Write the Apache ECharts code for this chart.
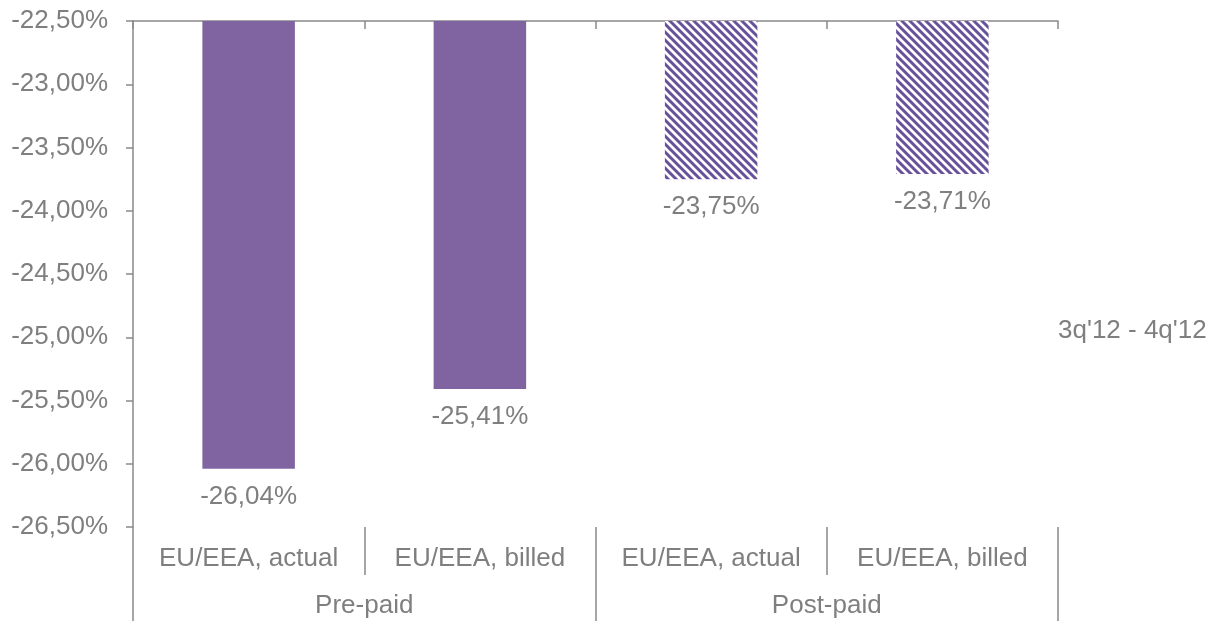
<!DOCTYPE html>
<html>
<head>
<meta charset="utf-8">
<script src="https://cdn.jsdelivr.net/npm/echarts@6/dist/echarts.min.js"></script>
<style>
    html, body { margin: 0; padding: 0; background: #fff; }
    #main { width: 1212px; height: 621px; }
</style>
</head>
<body>
<div id="main"></div>
<script>
// categories and values
var categories = ['EU/EEA, actual', 'EU/EEA, billed', 'EU/EEA, actual', 'EU/EEA, billed'];
var groups = ['Pre-paid', 'Post-paid'];
var values = [-26.04, -25.41, -23.75, -23.71];
var hatched = [false, false, true, true];
var seriesName = "3q'12 - 4q'12";

var gray = '#898989';
var textColor = '#7f7f7f';
var font = "'Liberation Sans', Arial, sans-serif";

// hatch pattern for the post-paid bars
function makeHatch() {
    var n = 8;
    var c = document.createElement('canvas');
    c.width = n;
    c.height = n;
    var ctx = c.getContext('2d');
    for (var y = 0; y < n; y++) {
        for (var x = 0; x < n; x++) {
            var d = (x - y + n) % n;
            var col = '#ffffff';
            if (d < 3) col = '#66519a';
            else if (d === 3 || d === 7) col = '#a999c6';
            ctx.fillStyle = col;
            ctx.fillRect(x, y, 1, 1);
        }
    }
    return c;
}
var hatch = { image: makeHatch(), repeat: 'repeat' };

function pct(v) {
    return v.toFixed(2).replace('.', ',') + '%';
}

var chart = echarts.init(document.getElementById('main'));

chart.setOption({
    animation: false,
    textStyle: { fontFamily: font },
    grid: { left: 133, right: 154, top: 21, bottom: 94, containLabel: false },
    xAxis: [
        {
            type: 'category',
            data: categories,
            position: 'bottom',
            axisLine: { show: false },
            axisTick: { show: true, interval: 0, length: 48, lineStyle: { color: gray, width: 1.5 } },
            axisLabel: { interval: 0, margin: 19, color: textColor, fontSize: 26, fontFamily: font }
        },
        {
            type: 'category',
            data: groups,
            position: 'bottom',
            axisLine: { show: false },
            axisTick: { show: true, interval: 0, length: 94, lineStyle: { color: gray, width: 1.5 } },
            axisLabel: { interval: 0, margin: 66, color: textColor, fontSize: 26, fontFamily: font }
        },
        {
            type: 'category',
            data: categories,
            position: 'top',
            axisLine: { show: true, lineStyle: { color: gray, width: 1.5 } },
            axisTick: { show: true, inside: true, interval: 0, length: 8, lineStyle: { color: gray, width: 1.5 } },
            axisLabel: { show: false }
        }
    ],
    yAxis: {
        type: 'value',
        min: -26.5,
        max: -22.5,
        interval: 0.5,
        splitLine: { show: false },
        axisLine: { show: true, lineStyle: { color: gray, width: 1.5 } },
        axisTick: { show: true, length: 7, lineStyle: { color: gray, width: 1.5 } },
        axisLabel: {
            margin: 25,
            color: textColor,
            fontSize: 26,
            fontFamily: font,
            formatter: pct
        }
    },
    graphic: [
        {
            type: 'text',
            left: 1058,
            top: 318,
            style: { text: seriesName, fill: textColor, font: '26px ' + font }
        }
    ],
    series: [
        {
            name: seriesName,
            type: 'bar',
            xAxisIndex: 0,
            barWidth: '40%',
            clip: true,
            data: values.map(function (v, i) {
                return {
                    value: v,
                    itemStyle: { color: hatched[i] ? hatch : '#8064a2' }
                };
            }),
            label: {
                show: true,
                position: 'bottom',
                distance: 15,
                color: textColor,
                fontSize: 26,
                fontFamily: font,
                formatter: function (p) { return pct(p.value); }
            }
        }
    ]
});
</script>
</body>
</html>
